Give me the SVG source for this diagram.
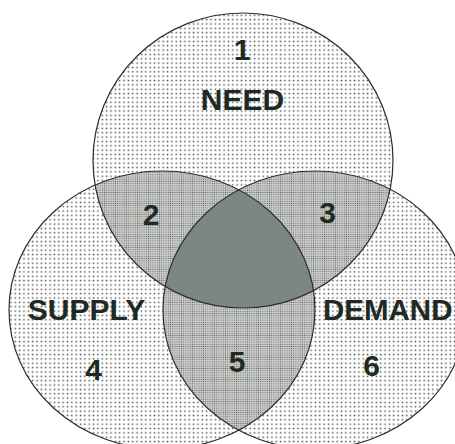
<svg xmlns="http://www.w3.org/2000/svg" width="455" height="444" viewBox="0 0 455 444">
  <defs>
    <pattern id="light" patternUnits="userSpaceOnUse" width="4.35" height="4.35">
      <rect width="4.35" height="4.35" fill="#ffffff"/>
      <rect x="1.5" y="1.5" width="1.45" height="1.45" fill="#4a4a4a"/>
    </pattern>
    <pattern id="dense" patternUnits="userSpaceOnUse" width="2.2" height="2.2">
      <rect width="2.2" height="2.2" fill="#d6d8d6"/>
      <rect x="0.5" y="0.5" width="1.15" height="1.15" fill="#5c605d"/>
    </pattern>
    <ellipse id="eNeed" cx="243" cy="160.5" rx="150" ry="147.5"/>
    <ellipse id="eSupply" cx="162" cy="310" rx="153" ry="139"/>
    <ellipse id="eDemand" cx="315" cy="310" rx="152" ry="139"/>
    <clipPath id="cNeed"><use href="#eNeed"/></clipPath>
    <clipPath id="cSupply"><use href="#eSupply"/></clipPath>
    <clipPath id="cDemand"><use href="#eDemand"/></clipPath>
  </defs>
  <style>
    .base { fill: url(#light); stroke: none; }
    .dbl { fill: url(#dense); stroke: none; }
    .tri { fill: #7d8781; stroke: none; }
    .edge { fill: none; stroke: #2e2e2e; stroke-width: 1.2; }
    .lbl { font-family: "Liberation Sans", Arial, sans-serif; font-weight: bold; font-size: 30px; fill: #1f2a23; text-anchor: middle; }
  </style>
  <rect width="455" height="444" fill="#ffffff"/>

  <g id="fills">
    <use href="#eNeed" class="base"/>
    <use href="#eSupply" class="base"/>
    <use href="#eDemand" class="base"/>
    <g clip-path="url(#cNeed)">
      <use href="#eSupply" class="dbl"/>
      <use href="#eDemand" class="dbl"/>
    </g>
    <g clip-path="url(#cSupply)">
      <use href="#eDemand" class="dbl"/>
    </g>
    <g clip-path="url(#cNeed)">
      <g clip-path="url(#cSupply)">
        <use href="#eDemand" class="tri"/>
      </g>
    </g>
  </g>

  <g id="need">
    <use href="#eNeed" class="edge"/>
    <text class="lbl" x="242" y="60">1</text>
    <text class="lbl" x="242.5" y="110">NEED</text>
  </g>
  <g id="supply">
    <use href="#eSupply" class="edge"/>
    <text class="lbl" x="86.5" y="320">SUPPLY</text>
    <text class="lbl" x="93.5" y="380">4</text>
  </g>
  <g id="demand">
    <use href="#eDemand" class="edge"/>
    <text class="lbl" x="323" y="320" style="text-anchor:start;font-size:29.5px">DEMAND</text>
    <text class="lbl" x="371.5" y="376">6</text>
  </g>
  <g id="overlaps">
    <text class="lbl" x="151" y="225">2</text>
    <text class="lbl" x="327.5" y="223">3</text>
    <text class="lbl" x="237" y="372">5</text>
  </g>
  <g id="connectors"/>
</svg>
